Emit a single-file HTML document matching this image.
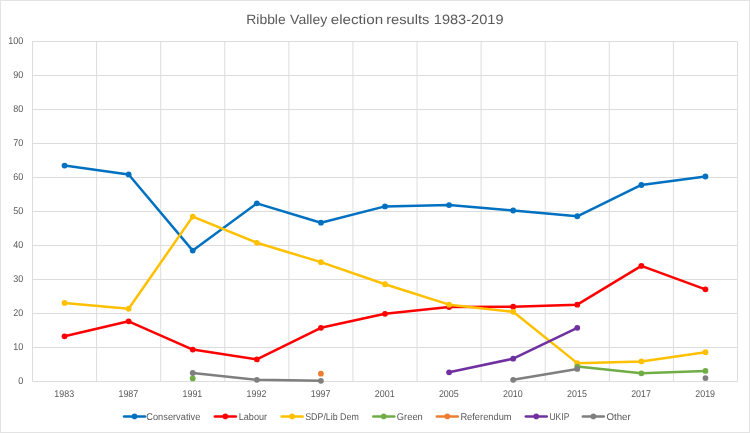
<!DOCTYPE html>
<html lang="en"><head><meta charset="utf-8"><title>Ribble Valley election results 1983-2019</title>
<style>html,body{margin:0;padding:0;background:#fff;overflow:hidden}svg{display:block}</style></head>
<body>
<svg width="750" height="433" viewBox="0 0 750 433" font-family="'Liberation Sans', sans-serif" fill="#595959" text-rendering="geometricPrecision">
<rect x="0" y="0" width="750" height="433" fill="#ffffff"/>
<rect x="0.5" y="0.5" width="749" height="432" fill="none" stroke="#e3e3e3" stroke-width="1"/>
<path d="M32.5 381.50H737.5 M32.5 347.50H737.5 M32.5 313.50H737.5 M32.5 279.50H737.5 M32.5 245.50H737.5 M32.5 211.50H737.5 M32.5 177.50H737.5 M32.5 143.50H737.5 M32.5 109.50H737.5 M32.5 75.50H737.5 M32.5 41.50H737.5 M32.50 41.5V381.5 M96.59 41.5V381.5 M160.68 41.5V381.5 M224.77 41.5V381.5 M288.86 41.5V381.5 M352.95 41.5V381.5 M417.05 41.5V381.5 M481.14 41.5V381.5 M545.23 41.5V381.5 M609.32 41.5V381.5 M673.41 41.5V381.5 M737.50 41.5V381.5" stroke="#dddddd" stroke-width="1" fill="none"/>
<text y="23.5" font-size="13.6"><tspan x="246.3" textLength="39.4" lengthAdjust="spacingAndGlyphs">Ribble</tspan> <tspan x="290.1" textLength="37.2" lengthAdjust="spacingAndGlyphs">Valley</tspan> <tspan x="330.7" textLength="52.4" lengthAdjust="spacingAndGlyphs">election</tspan> <tspan x="386.2" textLength="43.2" lengthAdjust="spacingAndGlyphs">results</tspan> <tspan x="433.8" textLength="69.7" lengthAdjust="spacingAndGlyphs">1983-2019</tspan></text>
<text x="18.30" y="384.00" font-size="9.8" textLength="5.00" lengthAdjust="spacingAndGlyphs">0</text>
<text x="13.30" y="350.00" font-size="9.8" textLength="10.00" lengthAdjust="spacingAndGlyphs">10</text>
<text x="13.30" y="316.00" font-size="9.8" textLength="10.00" lengthAdjust="spacingAndGlyphs">20</text>
<text x="13.30" y="282.00" font-size="9.8" textLength="10.00" lengthAdjust="spacingAndGlyphs">30</text>
<text x="13.30" y="248.00" font-size="9.8" textLength="10.00" lengthAdjust="spacingAndGlyphs">40</text>
<text x="13.30" y="214.00" font-size="9.8" textLength="10.00" lengthAdjust="spacingAndGlyphs">50</text>
<text x="13.30" y="180.00" font-size="9.8" textLength="10.00" lengthAdjust="spacingAndGlyphs">60</text>
<text x="13.30" y="146.00" font-size="9.8" textLength="10.00" lengthAdjust="spacingAndGlyphs">70</text>
<text x="13.30" y="112.00" font-size="9.8" textLength="10.00" lengthAdjust="spacingAndGlyphs">80</text>
<text x="13.30" y="78.00" font-size="9.8" textLength="10.00" lengthAdjust="spacingAndGlyphs">90</text>
<text x="8.30" y="44.00" font-size="9.8" textLength="15.00" lengthAdjust="spacingAndGlyphs">100</text>
<text x="54.35" y="397" font-size="9.8" textLength="19.8" lengthAdjust="spacingAndGlyphs">1983</text>
<text x="118.44" y="397" font-size="9.8" textLength="19.8" lengthAdjust="spacingAndGlyphs">1987</text>
<text x="182.53" y="397" font-size="9.8" textLength="19.8" lengthAdjust="spacingAndGlyphs">1991</text>
<text x="246.62" y="397" font-size="9.8" textLength="19.8" lengthAdjust="spacingAndGlyphs">1992</text>
<text x="310.71" y="397" font-size="9.8" textLength="19.8" lengthAdjust="spacingAndGlyphs">1997</text>
<text x="374.80" y="397" font-size="9.8" textLength="19.8" lengthAdjust="spacingAndGlyphs">2001</text>
<text x="438.89" y="397" font-size="9.8" textLength="19.8" lengthAdjust="spacingAndGlyphs">2005</text>
<text x="502.98" y="397" font-size="9.8" textLength="19.8" lengthAdjust="spacingAndGlyphs">2010</text>
<text x="567.07" y="397" font-size="9.8" textLength="19.8" lengthAdjust="spacingAndGlyphs">2015</text>
<text x="631.16" y="397" font-size="9.8" textLength="19.8" lengthAdjust="spacingAndGlyphs">2017</text>
<text x="695.25" y="397" font-size="9.8" textLength="19.8" lengthAdjust="spacingAndGlyphs">2019</text>
<g stroke="#0070C0" fill="#0070C0">
<path d="M64.55 165.60 L128.64 174.44 L192.73 250.60 L256.82 203.34 L320.91 222.72 L385.00 206.40 L449.09 205.04 L513.18 210.48 L577.27 216.26 L641.36 184.98 L705.45 176.48" fill="none" stroke-width="2.5" stroke-linejoin="round" stroke-linecap="round"/>
<circle cx="64.55" cy="165.60" r="2.9" stroke="none"/>
<circle cx="128.64" cy="174.44" r="2.9" stroke="none"/>
<circle cx="192.73" cy="250.60" r="2.9" stroke="none"/>
<circle cx="256.82" cy="203.34" r="2.9" stroke="none"/>
<circle cx="320.91" cy="222.72" r="2.9" stroke="none"/>
<circle cx="385.00" cy="206.40" r="2.9" stroke="none"/>
<circle cx="449.09" cy="205.04" r="2.9" stroke="none"/>
<circle cx="513.18" cy="210.48" r="2.9" stroke="none"/>
<circle cx="577.27" cy="216.26" r="2.9" stroke="none"/>
<circle cx="641.36" cy="184.98" r="2.9" stroke="none"/>
<circle cx="705.45" cy="176.48" r="2.9" stroke="none"/>
</g>
<g stroke="#FF0000" fill="#FF0000">
<path d="M64.55 336.28 L128.64 321.32 L192.73 349.54 L256.82 359.40 L320.91 327.78 L385.00 313.84 L449.09 307.04 L513.18 306.70 L577.27 304.66 L641.36 265.90 L705.45 289.36" fill="none" stroke-width="2.5" stroke-linejoin="round" stroke-linecap="round"/>
<circle cx="64.55" cy="336.28" r="2.9" stroke="none"/>
<circle cx="128.64" cy="321.32" r="2.9" stroke="none"/>
<circle cx="192.73" cy="349.54" r="2.9" stroke="none"/>
<circle cx="256.82" cy="359.40" r="2.9" stroke="none"/>
<circle cx="320.91" cy="327.78" r="2.9" stroke="none"/>
<circle cx="385.00" cy="313.84" r="2.9" stroke="none"/>
<circle cx="449.09" cy="307.04" r="2.9" stroke="none"/>
<circle cx="513.18" cy="306.70" r="2.9" stroke="none"/>
<circle cx="577.27" cy="304.66" r="2.9" stroke="none"/>
<circle cx="641.36" cy="265.90" r="2.9" stroke="none"/>
<circle cx="705.45" cy="289.36" r="2.9" stroke="none"/>
</g>
<g stroke="#FFC000" fill="#FFC000">
<path d="M64.55 302.96 L128.64 308.74 L192.73 216.60 L256.82 242.78 L320.91 262.16 L385.00 284.26 L449.09 304.66 L513.18 311.80 L577.27 363.14 L641.36 361.44 L705.45 352.26" fill="none" stroke-width="2.5" stroke-linejoin="round" stroke-linecap="round"/>
<circle cx="64.55" cy="302.96" r="2.9" stroke="none"/>
<circle cx="128.64" cy="308.74" r="2.9" stroke="none"/>
<circle cx="192.73" cy="216.60" r="2.9" stroke="none"/>
<circle cx="256.82" cy="242.78" r="2.9" stroke="none"/>
<circle cx="320.91" cy="262.16" r="2.9" stroke="none"/>
<circle cx="385.00" cy="284.26" r="2.9" stroke="none"/>
<circle cx="449.09" cy="304.66" r="2.9" stroke="none"/>
<circle cx="513.18" cy="311.80" r="2.9" stroke="none"/>
<circle cx="577.27" cy="363.14" r="2.9" stroke="none"/>
<circle cx="641.36" cy="361.44" r="2.9" stroke="none"/>
<circle cx="705.45" cy="352.26" r="2.9" stroke="none"/>
</g>
<g stroke="#70AD47" fill="#70AD47">
<path d="M577.27 366.54 L641.36 373.34 L705.45 370.96" fill="none" stroke-width="2.5" stroke-linejoin="round" stroke-linecap="round"/>
<circle cx="192.73" cy="378.44" r="2.9" stroke="none"/>
<circle cx="577.27" cy="366.54" r="2.9" stroke="none"/>
<circle cx="641.36" cy="373.34" r="2.9" stroke="none"/>
<circle cx="705.45" cy="370.96" r="2.9" stroke="none"/>
</g>
<g stroke="#ED7D31" fill="#ED7D31">
<circle cx="320.91" cy="373.68" r="2.9" stroke="none"/>
</g>
<g stroke="#7030A0" fill="#7030A0">
<path d="M449.09 372.32 L513.18 358.72 L577.27 327.78" fill="none" stroke-width="2.5" stroke-linejoin="round" stroke-linecap="round"/>
<circle cx="449.09" cy="372.32" r="2.9" stroke="none"/>
<circle cx="513.18" cy="358.72" r="2.9" stroke="none"/>
<circle cx="577.27" cy="327.78" r="2.9" stroke="none"/>
</g>
<g stroke="#7F7F7F" fill="#7F7F7F">
<path d="M192.73 373.00 L256.82 379.80 L320.91 380.82" fill="none" stroke-width="2.5" stroke-linejoin="round" stroke-linecap="round"/>
<path d="M513.18 379.80 L577.27 368.92" fill="none" stroke-width="2.5" stroke-linejoin="round" stroke-linecap="round"/>
<circle cx="192.73" cy="373.00" r="2.9" stroke="none"/>
<circle cx="256.82" cy="379.80" r="2.9" stroke="none"/>
<circle cx="320.91" cy="380.82" r="2.9" stroke="none"/>
<circle cx="513.18" cy="379.80" r="2.9" stroke="none"/>
<circle cx="577.27" cy="368.92" r="2.9" stroke="none"/>
<circle cx="705.45" cy="378.10" r="2.9" stroke="none"/>
</g>
<path d="M124.05 416.4h21" stroke="#0070C0" stroke-width="2.5" stroke-linecap="round" fill="none"/>
<circle cx="134.55" cy="416.4" r="2.8" fill="#0070C0"/>
<text x="146.29999999999998" y="420" font-size="9.8" textLength="54.0" lengthAdjust="spacingAndGlyphs">Conservative</text>
<path d="M214.85 416.4h21" stroke="#FF0000" stroke-width="2.5" stroke-linecap="round" fill="none"/>
<circle cx="225.35" cy="416.4" r="2.8" fill="#FF0000"/>
<text x="238.7" y="420" font-size="9.8" textLength="28.400000000000002" lengthAdjust="spacingAndGlyphs">Labour</text>
<path d="M281.65 416.4h21" stroke="#FFC000" stroke-width="2.5" stroke-linecap="round" fill="none"/>
<circle cx="292.15" cy="416.4" r="2.8" fill="#FFC000"/>
<text x="305.20000000000005" y="420" font-size="9.8" textLength="53.599999999999994" lengthAdjust="spacingAndGlyphs">SDP/Lib Dem</text>
<path d="M373.25 416.4h21" stroke="#70AD47" stroke-width="2.5" stroke-linecap="round" fill="none"/>
<circle cx="383.75" cy="416.4" r="2.8" fill="#70AD47"/>
<text x="396.8" y="420" font-size="9.8" textLength="26.0" lengthAdjust="spacingAndGlyphs">Green</text>
<path d="M436.85 416.4h21" stroke="#ED7D31" stroke-width="2.5" stroke-linecap="round" fill="none"/>
<circle cx="447.35" cy="416.4" r="2.8" fill="#ED7D31"/>
<text x="460.40000000000003" y="420" font-size="9.8" textLength="51.199999999999996" lengthAdjust="spacingAndGlyphs">Referendum</text>
<path d="M525.75 416.4h21" stroke="#7030A0" stroke-width="2.5" stroke-linecap="round" fill="none"/>
<circle cx="536.25" cy="416.4" r="2.8" fill="#7030A0"/>
<text x="549.5" y="420" font-size="9.8" textLength="19.8" lengthAdjust="spacingAndGlyphs">UKIP</text>
<path d="M582.85 416.4h21" stroke="#7F7F7F" stroke-width="2.5" stroke-linecap="round" fill="none"/>
<circle cx="593.35" cy="416.4" r="2.8" fill="#7F7F7F"/>
<text x="606.4" y="420" font-size="9.8" textLength="24.3" lengthAdjust="spacingAndGlyphs">Other</text>
</svg>
</body></html>
